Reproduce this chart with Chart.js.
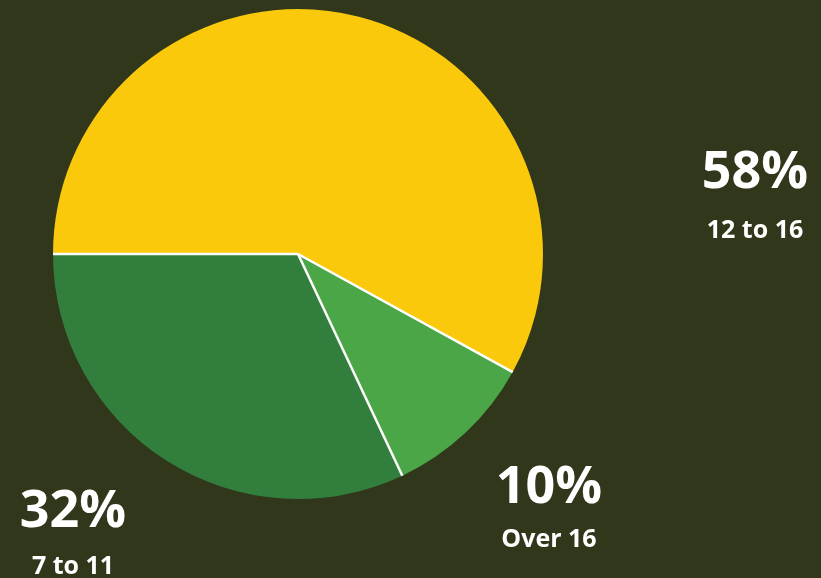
<!DOCTYPE html>
<html>
<head>
<meta charset="utf-8">
<script src="https://cdn.jsdelivr.net/npm/chart.js@4/dist/chart.umd.min.js"></script>
<style>
  html, body { margin: 0; padding: 0; background: #30371a; }
  #wrap { width: 821px; height: 578px; position: relative; }
</style>
</head>
<body>
<div id="wrap"><canvas id="pie"></canvas></div>
<script>
// Age groups and their share of the total
const categories = ['12 to 16', 'Over 16', '7 to 11'];
const shares = [58, 10, 32];
const sliceColors = ['#fbc90b', '#4aa646', '#327e3c'];

// where each percentage + caption sits (center x, number baseline, caption baseline)
const labelSpots = [
    { x: 755, y: 188, capY: 238 },
    { x: 549, y: 503, capY: 547 },
    { x: 73, y: 527, capY: 574 }
];

// thin white lines between slices only (no outer ring)
const separators = {
    id: 'separators',
    afterDatasetDraw(chart) {
        const ctx = chart.ctx;
        const arcs = chart.getDatasetMeta(0).data;
        ctx.save();
        ctx.strokeStyle = '#ffffff';
        ctx.lineWidth = 2.5;
        arcs.forEach(arc => {
            const p = arc.getProps(['x', 'y', 'startAngle', 'outerRadius'], true);
            ctx.beginPath();
            ctx.moveTo(p.x, p.y);
            ctx.lineTo(p.x + Math.cos(p.startAngle) * p.outerRadius, p.y + Math.sin(p.startAngle) * p.outerRadius);
            ctx.stroke();
        });
        ctx.restore();
    }
};

const sideLabels = {
    id: 'sideLabels',
    afterDraw(chart) {
        const ctx = chart.ctx;
        ctx.save();
        ctx.fillStyle = '#ffffff';
        ctx.textAlign = 'center';
        ctx.textBaseline = 'alphabetic';
        categories.forEach((cat, i) => {
            const spot = labelSpots[i];
            ctx.font = 'bold 52px "Open Sans", sans-serif';
            ctx.fillText(shares[i] + '%', spot.x, spot.y);
            ctx.font = 'bold 25px "Open Sans", sans-serif';
            ctx.fillText(cat, spot.x, spot.capY);
        });
        ctx.restore();
    }
};

new Chart(document.getElementById('pie'), {
    type: 'pie',
    data: {
        labels: categories,
        datasets: [{
            data: shares,
            backgroundColor: sliceColors,
            borderWidth: 0
        }]
    },
    options: {
        responsive: true,
        maintainAspectRatio: false,
        animation: false,
        rotation: 270,
        layout: { padding: { left: 53, right: 278, top: 9, bottom: 79 } },
        plugins: {
            legend: { display: false },
            tooltip: { enabled: false }
        }
    },
    plugins: [separators, sideLabels]
});
</script>
</body>
</html>
